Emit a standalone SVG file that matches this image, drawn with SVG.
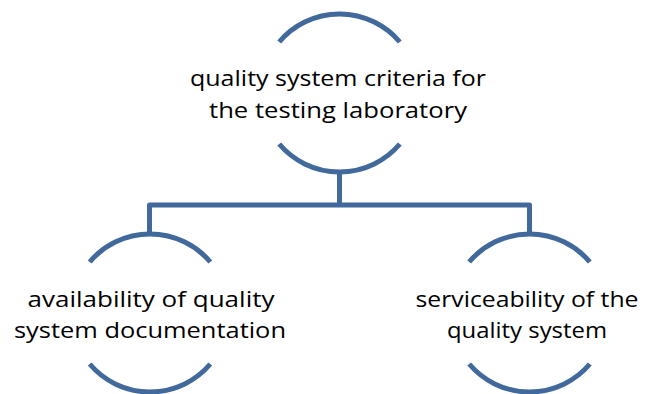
<svg xmlns="http://www.w3.org/2000/svg" width="647" height="394" viewBox="0 0 647 394">
<style>
.arc{fill:none;stroke:#41699B;stroke-width:5}
.conn{fill:none;stroke:#41699B;stroke-width:5;stroke-linejoin:round}
.lbl{font-family:"Open Sans","Liberation Sans",sans-serif;font-size:22px;fill:#000;text-anchor:middle}
</style>
<rect width="647" height="394" fill="#fff"/>
<g id="connectors">
<path class="conn" d="M339.5,172 V205 M149.5,234 V205 H529.5 V234"/>
</g>
<g id="node-top">
<path class="arc" d="M279.2,42 A79,79 0 0 1 399.8,42"/>
<path class="arc" d="M279.2,144 A79,79 0 0 0 399.8,144"/>
<text class="lbl" x="338" y="86" textLength="296" lengthAdjust="spacingAndGlyphs">quality system criteria for</text>
<text class="lbl" x="338" y="118" textLength="258" lengthAdjust="spacingAndGlyphs">the testing laboratory</text>
</g>
<g id="node-left">
<path class="arc" d="M89.7,262 A79,79 0 0 1 210.3,262"/>
<path class="arc" d="M89.7,364 A79,79 0 0 0 210.3,364"/>
<text class="lbl" x="151" y="307" textLength="247" lengthAdjust="spacingAndGlyphs">availability of quality</text>
<text class="lbl" x="150" y="338" textLength="272" lengthAdjust="spacingAndGlyphs">system documentation</text>
</g>
<g id="node-right">
<path class="arc" d="M469.2,262 A79,79 0 0 1 589.8,262"/>
<path class="arc" d="M469.2,364 A79,79 0 0 0 589.8,364"/>
<text class="lbl" x="527" y="307" textLength="223" lengthAdjust="spacingAndGlyphs">serviceability of the</text>
<text class="lbl" x="527" y="338" textLength="160" lengthAdjust="spacingAndGlyphs">quality system</text>
</g>
</svg>
